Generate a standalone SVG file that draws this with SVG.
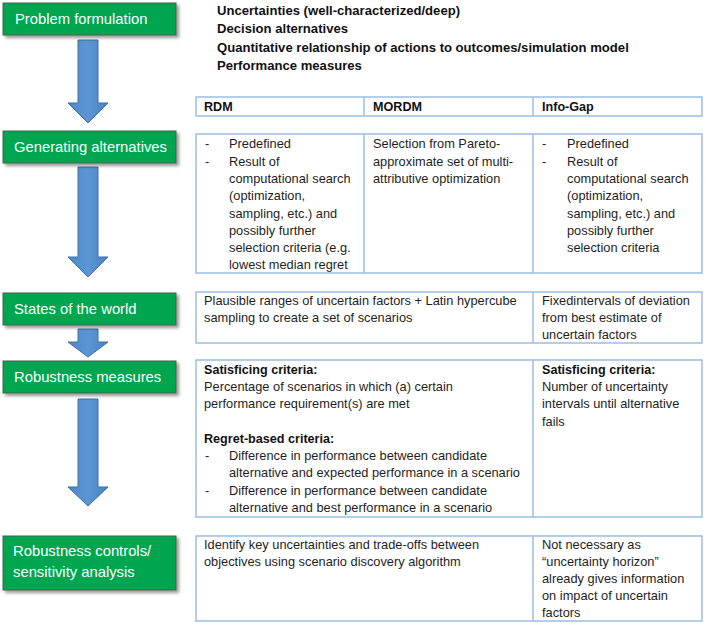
<svg xmlns="http://www.w3.org/2000/svg" width="707" height="623" viewBox="0 0 707 623">
<defs>
<filter id="sh" x="-10%" y="-20%" width="130%" height="160%">
<feDropShadow dx="2.5" dy="2.5" stdDeviation="1.5" flood-color="#000" flood-opacity="0.4"/>
</filter>
<linearGradient id="ag" x1="0" y1="0" x2="1" y2="0">
<stop offset="0" stop-color="#4f88c8"/>
<stop offset="0.5" stop-color="#5b95d4"/>
<stop offset="1" stop-color="#4a82c2"/>
</linearGradient>
</defs>
<style>
.step{fill:#00a650;stroke:#46604b;stroke-width:1;filter:url(#sh)}
.stxt{font-family:"Liberation Sans",Arial,sans-serif;font-size:14.8px;fill:#ffffff}
.arrow{fill:url(#ag);stroke:#3d6ea6;stroke-width:1}
.cell{fill:#ffffff;stroke:#a3c2e3;stroke-width:1.6}
.div{stroke:#a3c2e3;stroke-width:1.6}
.t{font-family:"Liberation Sans",Arial,sans-serif;font-size:12.8px;fill:#1e1e1e}
.b{font-family:"Liberation Sans",Arial,sans-serif;font-size:12.6px;font-weight:bold;fill:#111}
.top{font-family:"Liberation Sans",Arial,sans-serif;font-size:13.1px;font-weight:bold;fill:#111}
</style>
<rect width="707" height="623" fill="#ffffff"/>

<g id="connectors">
<path class="arrow" d="M78,40 H98 V103 H108 L88,123 L68,103 H78 Z"/>
<path class="arrow" d="M78,167 H98 V257 H108 L88,277 L68,257 H78 Z"/>
<path class="arrow" d="M78,329 H98 V342 H108 L88,357 L68,342 H78 Z"/>
<path class="arrow" d="M78,399 H98 V487 H108 L88,506 L68,487 H78 Z"/>
</g>

<g id="step-problem">
<rect class="step" x="3" y="3" width="173" height="32"/>
<text class="stxt" x="15" y="24">Problem formulation</text>
</g>
<g id="step-generating">
<rect class="step" x="3" y="131" width="173" height="32"/>
<text class="stxt" x="14" y="152">Generating alternatives</text>
</g>
<g id="step-states">
<rect class="step" x="3" y="293" width="173" height="32"/>
<text class="stxt" x="14" y="314">States of the world</text>
</g>
<g id="step-robustness">
<rect class="step" x="3" y="361" width="173" height="32"/>
<text class="stxt" x="14" y="382">Robustness measures</text>
</g>
<g id="step-controls">
<rect class="step" x="3" y="536" width="173" height="54"/>
<text class="stxt" x="13" y="556">Robustness controls/</text>
<text class="stxt" x="13" y="577">sensitivity analysis</text>
</g>

<g id="problem-items">
<text class="top" x="217" y="15">Uncertainties (well-characterized/deep)</text>
<text class="top" x="217" y="33">Decision alternatives</text>
<text class="top" x="217" y="51.5">Quantitative relationship of actions to outcomes/simulation model</text>
<text class="top" x="217" y="70">Performance measures</text>
</g>

<g id="header-row">
<rect class="cell" x="196" y="97" width="506" height="19"/>
<line class="div" x1="364" y1="97" x2="364" y2="116"/>
<line class="div" x1="533" y1="97" x2="533" y2="116"/>
<text class="b" x="204" y="111">RDM</text>
<text class="b" x="373" y="111">MORDM</text>
<text class="b" x="542" y="111">Info-Gap</text>
</g>

<g id="row-generating">
<rect class="cell" x="196" y="134" width="506" height="139"/>
<line class="div" x1="364" y1="134" x2="364" y2="273"/>
<line class="div" x1="533" y1="134" x2="533" y2="273"/>
<text class="t" x="205" y="148">-</text>
<text class="t" x="229" y="148">Predefined</text>
<text class="t" x="205" y="166">-</text>
<text class="t" x="229" y="166">Result of</text>
<text class="t" x="229" y="183">computational search</text>
<text class="t" x="229" y="200">(optimization,</text>
<text class="t" x="229" y="218">sampling, etc.) and</text>
<text class="t" x="229" y="235">possibly further</text>
<text class="t" x="229" y="252">selection criteria (e.g.</text>
<text class="t" x="229" y="269">lowest median regret</text>
<text class="t" x="373" y="148">Selection from Pareto-</text>
<text class="t" x="373" y="166">approximate set of multi-</text>
<text class="t" x="373" y="183">attributive optimization</text>
<text class="t" x="542" y="148">-</text>
<text class="t" x="567" y="148">Predefined</text>
<text class="t" x="542" y="166">-</text>
<text class="t" x="567" y="166">Result of</text>
<text class="t" x="567" y="183">computational search</text>
<text class="t" x="567" y="200">(optimization,</text>
<text class="t" x="567" y="218">sampling, etc.) and</text>
<text class="t" x="567" y="235">possibly further</text>
<text class="t" x="567" y="252">selection criteria</text>
</g>

<g id="row-states">
<rect class="cell" x="196" y="292" width="506" height="51"/>
<line class="div" x1="533" y1="292" x2="533" y2="343"/>
<text class="t" x="204" y="305">Plausible ranges of uncertain factors + Latin hypercube</text>
<text class="t" x="204" y="322">sampling to create a set of scenarios</text>
<text class="t" x="542" y="305">Fixedintervals of deviation</text>
<text class="t" x="542" y="322">from best estimate of</text>
<text class="t" x="542" y="339">uncertain factors</text>
</g>

<g id="row-robustness">
<rect class="cell" x="196" y="360" width="506" height="157"/>
<line class="div" x1="533" y1="360" x2="533" y2="517"/>
<text class="b" x="204" y="374">Satisficing criteria:</text>
<text class="t" x="204" y="391">Percentage of scenarios in which (a) certain</text>
<text class="t" x="204" y="408">performance requirement(s) are met</text>
<text class="b" x="204" y="443">Regret-based criteria:</text>
<text class="t" x="205" y="460">-</text>
<text class="t" x="229" y="460">Difference in performance between candidate</text>
<text class="t" x="229" y="477">alternative and expected performance in a scenario</text>
<text class="t" x="205" y="495">-</text>
<text class="t" x="229" y="495">Difference in performance between candidate</text>
<text class="t" x="229" y="512">alternative and best performance in a scenario</text>
<text class="b" x="542" y="374">Satisficing criteria:</text>
<text class="t" x="542" y="391">Number of uncertainty</text>
<text class="t" x="542" y="408">intervals until alternative</text>
<text class="t" x="542" y="426">fails</text>
</g>

<g id="row-controls">
<rect class="cell" x="196" y="536" width="506" height="85"/>
<line class="div" x1="533" y1="536" x2="533" y2="621"/>
<text class="t" x="204" y="549">Identify key uncertainties and trade-offs between</text>
<text class="t" x="204" y="566">objectives using scenario discovery algorithm</text>
<text class="t" x="542" y="549">Not necessary as</text>
<text class="t" x="542" y="566">“uncertainty horizon”</text>
<text class="t" x="542" y="583">already gives information</text>
<text class="t" x="542" y="600">on impact of uncertain</text>
<text class="t" x="542" y="617">factors</text>
</g>
</svg>
